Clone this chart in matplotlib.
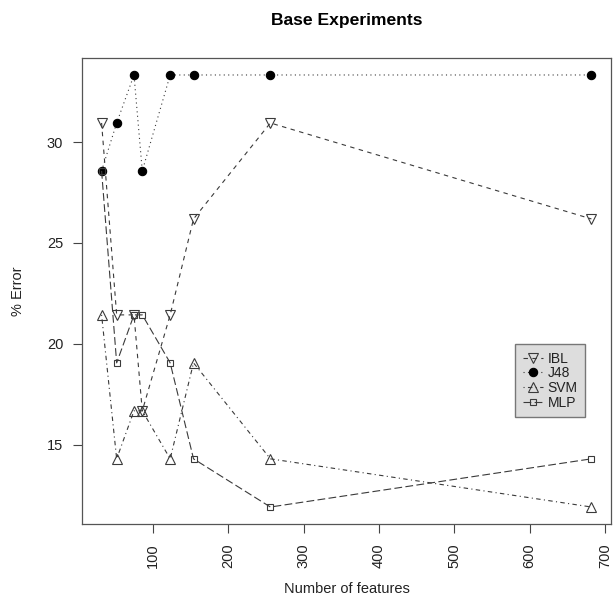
import numpy as np
import matplotlib
matplotlib.use('Agg')
import matplotlib.pyplot as plt

plt.rcParams['font.family'] = ['Liberation Sans', 'DejaVu Sans']

features = [32, 52, 75, 86, 123, 154, 256, 682]
ibl = [30.95, 21.43, 21.43, 16.67, 21.43, 26.19, 30.95, 26.19]
j48 = [28.57, 30.95, 33.33, 28.57, 33.33, 33.33, 33.33, 33.33]
svm = [21.43, 14.29, 16.67, 16.67, 14.29, 19.05, 14.29, 11.90]
mlp = [28.57, 19.05, 21.43, 21.43, 19.05, 14.29, 11.90, 14.29]

names = ['IBL', 'J48', 'SVM', 'MLP']
series = [ibl, j48, svm, mlp]

ink = '#3a3a3a'
txt = '#222222'
# R style lty 2..5, in linewidth units
styles = [(0, (4, 4)), (0, (1, 3)), (0, (1, 3, 4, 3)), (0, (7, 3))]
marks = [dict(marker = 'v', ms = 6.5, mfc = 'none'),
         dict(marker = 'o', ms = 6, mfc = 'black', mec = 'black'),
         dict(marker = '^', ms = 6.5, mfc = 'none'),
         dict(marker = 's', ms = 4.5, mfc = 'none')]

W, H = 613, 598
fig = plt.figure(figsize = (W / 100, H / 100), dpi = 100)
ax = fig.add_axes((82 / W, 1 - 524.3 / H, 529 / W, 466.6 / H))

for name, y, ls, mk in zip(names, series, styles, marks):
    kw = dict(mec = ink, mew = 0.8)
    kw.update(mk)
    ax.plot(features, y, color = ink, lw = 0.8, ls = ls, label = name, **kw)

# R's 4% axis padding
allv = np.concatenate(series)
xr = max(features) - min(features)
yr = allv.max() - allv.min()
ax.set_xlim(min(features) - 0.04 * xr, max(features) + 0.04 * xr)
ax.set_ylim(allv.min() - 0.04 * yr, allv.max() + 0.04 * yr)

ax.set_xticks([100, 200, 300, 400, 500, 600, 700])
ax.set_yticks([15, 20, 25, 30])
ax.tick_params(axis = 'x', labelrotation = 90)
ax.tick_params(length = 6.5, width = 0.8, color = '#444444', labelsize = 10.5,
               labelcolor = txt, pad = 7)
for s in ax.spines.values():
    s.set_color('#555555')
    s.set_linewidth(0.9)

fig.text(346.5 / W, 1 - 20 / H, 'Base Experiments', fontsize = 12.6, fontweight = 'bold',
         ha = 'center', va = 'center', color = 'black')
fig.text(346.5 / W, 1 - 589 / H, 'Number of features', fontsize = 10.5,
         ha = 'center', va = 'center', color = txt)
fig.text(18 / W, 1 - 291 / H, '% Error', fontsize = 10.5, rotation = 90,
         ha = 'center', va = 'center', color = txt)

leg = ax.legend(loc = 'upper left', bbox_to_anchor = ((515 - 82) / 529, (524.3 - 344) / 466.6),
                fontsize = 10, frameon = True, fancybox = False, handlelength = 1.5,
                handletextpad = 0.3, labelspacing = 0.05, borderpad = 0.55,
                borderaxespad = 0)
leg.get_frame().set_facecolor('#dddddd')
leg.get_frame().set_edgecolor('#777777')
leg.get_frame().set_alpha(1)
for t in leg.get_texts():
    t.set_color(txt)

plt.savefig('out.png', dpi = 100)
plt.close()
